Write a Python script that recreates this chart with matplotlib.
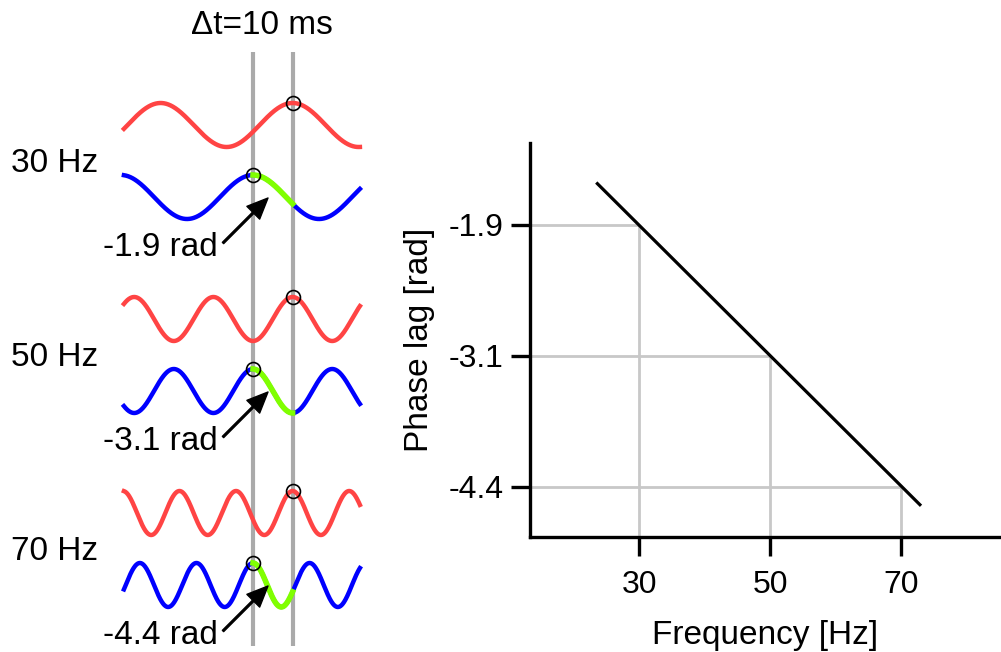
import numpy as np
import matplotlib.pyplot as plt

plt.rcParams['font.family'] = ['Liberation Sans', 'DejaVu Sans']

# data
freqs = [30, 50, 70]
freq_labels = ['30 Hz', '50 Hz', '70 Hz']
lag_labels = ['-1.9 rad', '-3.1 rad', '-4.4 rad']
dt_ms = 10
t_start, t_end = -32.6, 27.0
phase_lag = [-1.885, -3.142, -4.398]
phase_ticks = ['-1.9', '-3.1', '-4.4']
line_freq = [23.6, 72.9]
line_phase = [-1.49, -4.57]

fs = 24

fig = plt.figure(figsize=(10.01, 6.52), dpi=100)

# ----- left: example waves -----
axl = fig.add_axes([0, 0, 0.5, 1])
axl.axis('off')
px_ms = 3.96   # pixels per ms
x0 = 253       # pixel of t=0
axl.set_xlim(-x0 / px_ms, (500.5 - x0) / px_ms)
axl.set_ylim(652, 0)

def tx(px):
    return (px - x0) / px_ms

axl.vlines([0, dt_ms], 52, 646, color='#aaaaaa', lw=3, zorder=1)

t = np.linspace(t_start, t_end, 800)
tg = np.linspace(0, dt_ms, 200)
amp = 22
for i, f in enumerate(freqs):
    yr = 125 + 194 * i
    yb = yr + 72
    axl.plot(t, yr - amp * np.cos(2 * np.pi * f * (t - dt_ms) / 1000), color='#ff4444', lw=3.2, zorder=2)
    axl.plot(t, yb - amp * np.cos(2 * np.pi * f * t / 1000), color='#0000ff', lw=3.2, zorder=2)
    axl.plot(tg, yb - amp * np.cos(2 * np.pi * f * tg / 1000), color='#80ff00', lw=4, zorder=3)
    axl.plot([dt_ms], [yr - amp], 'o', mfc='none', mec='k', ms=10, mew=1.2, zorder=4)
    axl.plot([0], [yb - amp], 'o', mfc='none', mec='k', ms=10, mew=1.2, zorder=4)
    axl.annotate('', xy=(tx(268), yb + 1), xytext=(tx(223), yb + 46),
                 arrowprops=dict(width=1.3, headwidth=13, headlength=15, color='k', shrink=0))
    axl.text(tx(11), yr + 38, freq_labels[i], ha='left', va='center', fontsize=fs)
    axl.text(tx(218), yb + 50, lag_labels[i], ha='right', va='center', fontsize=fs)

axl.text(tx(262), 25, '\u0394t=10 ms', ha='center', va='center', fontsize=fs)

# ----- right: phase lag vs frequency -----
axr = fig.add_axes([530 / 1001, 1 - 537 / 652, 1 - 530 / 1001, (537 - 143) / 652])
xmin, xmax = 13.3, 85.3
ymin, ymax = -4.88, -1.10
axr.set_xlim(xmin, xmax)
axr.set_ylim(ymin, ymax)

for f, p in zip(freqs, phase_lag):
    axr.plot([xmin, f], [p, p], color='#c8c8c8', lw=2, zorder=1, solid_capstyle='butt')
    axr.plot([f, f], [ymin, p], color='#c8c8c8', lw=2, zorder=1, solid_capstyle='butt')
axr.plot(line_freq, line_phase, color='k', lw=2.3, zorder=2)

for s in ['top', 'right']:
    axr.spines[s].set_visible(False)
for s in ['left', 'bottom']:
    axr.spines[s].set_linewidth(2.4)
axr.set_xticks(freqs)
axr.set_yticks(phase_lag, phase_ticks)
axr.tick_params(axis='both', length=14, width=2.4, labelsize=23)
axr.tick_params(axis='x', pad=10)
axr.tick_params(axis='y', pad=5)
axr.set_xlabel('Frequency [Hz]', fontsize=fs, labelpad=14)
axr.set_ylabel('Phase lag [rad]', fontsize=fs, labelpad=10)

fig.savefig('out.png', dpi=100)
